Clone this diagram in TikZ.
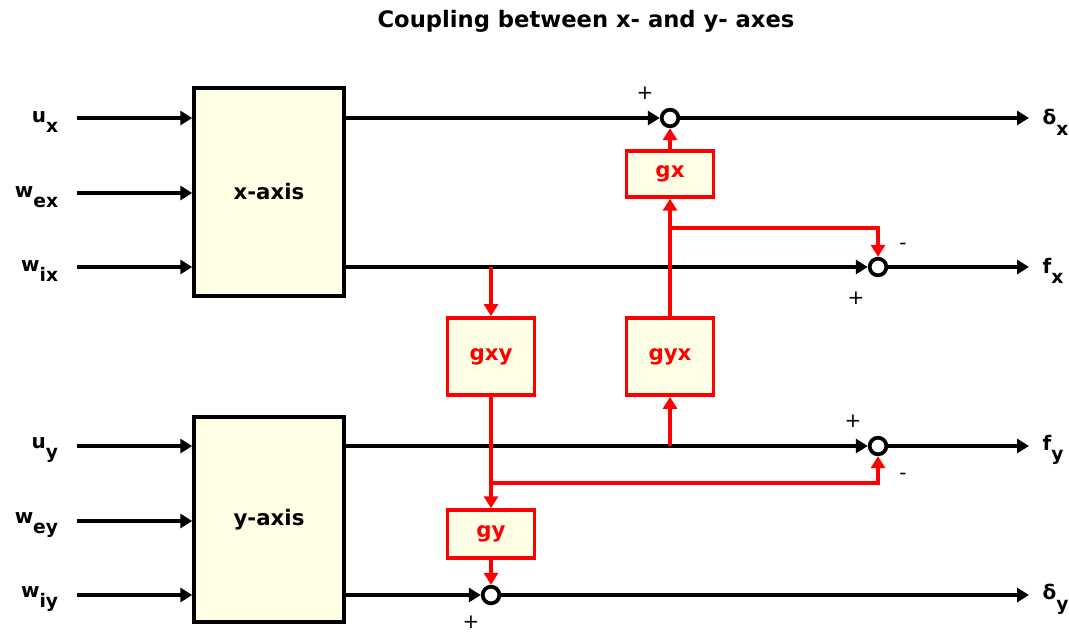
\documentclass[tikz,border=0pt]{standalone}
\usepackage{fontspec}
\setmainfont{DejaVu Sans}
\usepackage{xcolor}
\usepackage{tikz}
\usetikzlibrary{arrows.meta}
\definecolor{boxfill}{HTML}{FFFFE6}
\definecolor{fbred}{HTML}{FF0000}
\newcommand{\lsub}[1]{\raisebox{-8pt}{\fontsize{14}{14}\selectfont #1}}

\begin{document}
\begin{tikzpicture}[x=0.75pt,y=-0.75pt,
  sigline/.style={line width=2.6pt,-{Triangle[length=9pt,width=10.5pt]}},
  fbline/.style={sigline,fbred},
  sigtext/.style={font=\bfseries\fontsize{15}{15}\selectfont,inner sep=0pt},
  axisbox/.style={draw,line width=2.6pt,fill=boxfill,inner sep=0pt,minimum width=112.5pt,
    font=\bfseries\fontsize{16}{18}\selectfont},
  gainbox/.style={draw=fbred,text=fbred,line width=2.6pt,fill=boxfill,inner sep=0pt,minimum width=65pt,
    font=\bfseries\fontsize{16}{18}\selectfont},
  sumpt/.style={circle,draw,line width=2.8pt,fill=white,minimum size=12.5pt,inner sep=0pt},
  pm/.style={font=\fontsize{15}{15}\selectfont,inner sep=0pt}]
  \useasboundingbox (0,0) rectangle (1069,632);
  \node[font=\bfseries\fontsize{17}{20}\selectfont,anchor=base] (title) at (586,27) {Coupling between x- and y- axes};

  % axis blocks
  \node[axisbox,minimum height=156pt] (xaxis) at (269,192) {x-axis};
  \node[axisbox,minimum height=154pt] (yaxis) at (269,519.5) {y-axis};

  % inputs
  \coordinate[label={[sigtext,yshift=-3pt,label distance=14pt]left:u\lsub{x}}] (ux) at (77,118);
  \coordinate[label={[sigtext,yshift=-3pt,label distance=14pt]left:w\lsub{ex}}] (wex) at (77,193);
  \coordinate[label={[sigtext,yshift=-3pt,label distance=14pt]left:w\lsub{ix}}] (wix) at (77,267);
  \coordinate[label={[sigtext,yshift=-3pt,label distance=14pt]left:u\lsub{y}}] (uy) at (77,446);
  \coordinate[label={[sigtext,yshift=-3pt,label distance=14pt]left:w\lsub{ey}}] (wey) at (77,521);
  \coordinate[label={[sigtext,yshift=-3pt,label distance=14pt]left:w\lsub{iy}}] (wiy) at (77,595);
  \foreach \n in {ux,wex,wix} \draw[sigline] (\n) -- (\n -| xaxis.west);
  \foreach \n in {uy,wey,wiy} \draw[sigline] (\n) -- (\n -| yaxis.west);

  % outputs
  \coordinate[label={[sigtext,yshift=-3pt,label distance=10pt]right:δ\lsub{x}}] (dx) at (1029,118);
  \coordinate[label={[sigtext,yshift=-3pt,label distance=10pt]right:f\lsub{x}}] (fx) at (1029,267);
  \coordinate[label={[sigtext,yshift=-3pt,label distance=10pt]right:f\lsub{y}}] (fy) at (1029,446);
  \coordinate[label={[sigtext,yshift=-3pt,label distance=10pt]right:δ\lsub{y}}] (dy) at (1029,595);

  % summing points
  \node[sumpt] (sx) at (670,118) {};
  \node[sumpt] (sfx) at (878,267) {};
  \node[sumpt] (sfy) at (878,446) {};
  \node[sumpt] (sdy) at (491,595) {};

  % coupling gains
  \node[gainbox,minimum height=34.5pt] (gx) at (670,174) {gx};
  \node[gainbox,minimum height=58pt] (gxy) at (491,356.5) {gxy};
  \node[gainbox,minimum height=58pt] (gyx) at (670,356.5) {gyx};
  \node[gainbox,minimum height=36pt] (gy) at (491,534) {gy};

  \draw[sigline] (xaxis.east |- ux) -- (sx);
  \draw[sigline] (sx) -- (dx);
  \draw[sigline] (xaxis.east |- wix) -- (sfx);
  \draw[sigline] (sfx) -- (fx);
  \draw[sigline] (yaxis.east |- uy) -- (sfy);
  \draw[sigline] (sfy) -- (fy);
  \draw[sigline] (yaxis.east |- wiy) -- (sdy);
  \draw[sigline] (sdy) -- (dy);

  \coordinate (bx) at (670,228);
  \coordinate (by) at (491,483);
  \draw[fbline] (gyx) -- (gx);
  \draw[fbline] (gx) -- (sx);
  \draw[fbline] (bx) -| (sfx);
  \draw[fbline] (gxy.north |- sfx) -- (gxy);
  \draw[fbline] (gxy) -- (gy);
  \draw[fbline] (by) -| (sfy);
  \draw[fbline] (gyx.south |- sfy) -- (gyx);
  \draw[fbline] (gy) -- (sdy);

  % signs
  \node[pm] (px) at (645,93) {+};
  \node[pm] (mfx) at (903,246) {-};
  \node[pm] (pfx) at (856,298) {+};
  \node[pm] (pfy) at (853,421) {+};
  \node[pm] (mfy) at (903,476) {-};
  \node[pm] (pdy) at (471,622) {+};
\end{tikzpicture}
\end{document}
